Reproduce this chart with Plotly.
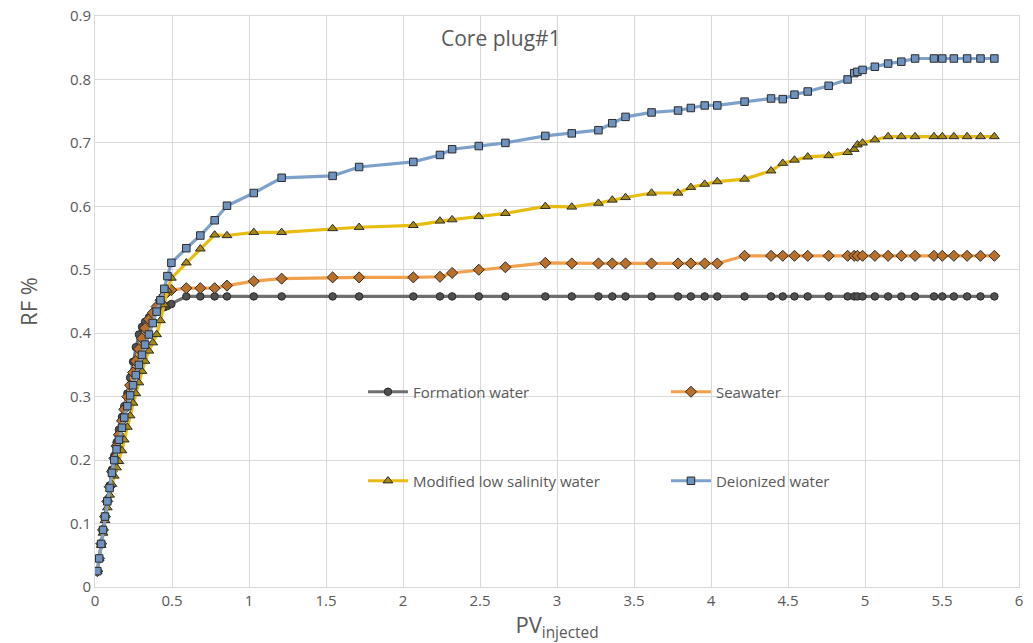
import plotly.graph_objects as go

# Shared PV injected values
pv = [0.015, 0.027, 0.040, 0.052, 0.065, 0.080, 0.095, 0.110, 0.125, 0.140,
      0.155, 0.175, 0.190, 0.210, 0.228, 0.247, 0.265, 0.285, 0.305, 0.325,
      0.350, 0.375, 0.400, 0.425, 0.450, 0.470,
      0.496, 0.593, 0.684, 0.777, 0.857, 1.031, 1.212, 1.543, 1.715, 2.067,
      2.240, 2.319, 2.492, 2.665, 2.924, 3.096, 3.269, 3.359, 3.445, 3.614,
      3.786, 3.869, 3.959, 4.041, 4.218, 4.390, 4.466, 4.542, 4.628, 4.764,
      4.887, 4.930, 4.951, 4.984, 5.064, 5.150, 5.236, 5.325, 5.448, 5.502,
      5.577, 5.663, 5.750, 5.840]

formation_water = [0.025, 0.045, 0.068, 0.090, 0.112, 0.137, 0.160, 0.185, 0.207, 0.228,
                   0.248, 0.268, 0.285, 0.305, 0.330, 0.355, 0.378, 0.398, 0.410, 0.418,
                   0.425, 0.430, 0.435, 0.438, 0.441, 0.443,
                   0.446, 0.458, 0.458, 0.458, 0.458, 0.458, 0.458, 0.458, 0.458, 0.458,
                   0.458, 0.458, 0.458, 0.458, 0.458, 0.458, 0.458, 0.458, 0.458, 0.458,
                   0.458, 0.458, 0.458, 0.458, 0.458, 0.458, 0.458, 0.458, 0.458, 0.458,
                   0.458, 0.458, 0.458, 0.458, 0.458, 0.458, 0.458, 0.458, 0.458, 0.458,
                   0.458, 0.458, 0.458, 0.458]

seawater = [0.025, 0.045, 0.068, 0.090, 0.111, 0.135, 0.158, 0.182, 0.203, 0.222,
            0.240, 0.262, 0.280, 0.300, 0.318, 0.338, 0.356, 0.375, 0.392, 0.408,
            0.422, 0.432, 0.442, 0.452, 0.460, 0.465,
            0.468, 0.471, 0.471, 0.471, 0.475, 0.482, 0.486, 0.488, 0.488, 0.488,
            0.489, 0.495, 0.500, 0.504, 0.511, 0.510, 0.510, 0.510, 0.510, 0.510,
            0.510, 0.510, 0.510, 0.510, 0.522, 0.522, 0.522, 0.522, 0.522, 0.522,
            0.522, 0.522, 0.522, 0.522, 0.522, 0.522, 0.522, 0.522, 0.522, 0.522,
            0.522, 0.522, 0.522, 0.522]

modified_low_salinity = [0.025, 0.045, 0.066, 0.085, 0.105, 0.125, 0.145, 0.162, 0.175, 0.188,
                         0.198, 0.215, 0.232, 0.252, 0.270, 0.290, 0.305, 0.322, 0.340, 0.356,
                         0.372, 0.385, 0.398, 0.420, 0.445, 0.468,
                         0.487, 0.511, 0.533, 0.555, 0.554, 0.559, 0.559, 0.565, 0.567, 0.570,
                         0.577, 0.579, 0.584, 0.589, 0.600, 0.599, 0.605, 0.610, 0.614, 0.621,
                         0.621, 0.630, 0.635, 0.639, 0.643, 0.656, 0.668, 0.673, 0.678, 0.680,
                         0.685, 0.690, 0.697, 0.700, 0.705, 0.710, 0.710, 0.710, 0.710, 0.710,
                         0.710, 0.710, 0.710, 0.710]

deionized_water = [0.025, 0.045, 0.068, 0.090, 0.111, 0.135, 0.156, 0.180, 0.200, 0.217,
                   0.232, 0.251, 0.267, 0.285, 0.302, 0.318, 0.334, 0.350, 0.366, 0.382,
                   0.398, 0.416, 0.434, 0.452, 0.470, 0.490,
                   0.511, 0.534, 0.554, 0.578, 0.601, 0.621, 0.645, 0.648, 0.662, 0.670,
                   0.681, 0.690, 0.695, 0.700, 0.711, 0.715, 0.720, 0.731, 0.741, 0.748,
                   0.751, 0.755, 0.759, 0.759, 0.765, 0.770, 0.769, 0.776, 0.781, 0.790,
                   0.800, 0.810, 0.812, 0.815, 0.820, 0.825, 0.828, 0.833, 0.833, 0.833,
                   0.833, 0.833, 0.833, 0.833]

series_names = ["Formation water", "Seawater", "Modified low salinity water", "Deionized water"]
x_ticks = [0, 0.5, 1, 1.5, 2, 2.5, 3, 3.5, 4, 4.5, 5, 5.5, 6]
x_tick_labels = ["0", "0.5", "1", "1.5", "2", "2.5", "3", "3.5", "4", "4.5", "5", "5.5", "6"]
y_ticks = [0, 0.1, 0.2, 0.3, 0.4, 0.5, 0.6, 0.7, 0.8, 0.9]
y_tick_labels = ["0", "0.1", "0.2", "0.3", "0.4", "0.5", "0.6", "0.7", "0.8", "0.9"]

FONT = "Open Sans"
TXT = "#595959"
GRID = "#d9d9d9"

styles = [
    dict(line="#6f6f6f", marker="#505050", symbol="circle", size=7.5, legend="legend"),
    dict(line="#f2a04c", marker="#b8702a", symbol="diamond", size=8.5, legend="legend"),
    dict(line="#e8bd10", marker="#a88a10", symbol="triangle-up", size=8.5, legend="legend2"),
    dict(line="#7ea1cc", marker="#6f93c0", symbol="square", size=7.5, legend="legend2"),
]
ys = [formation_water, seawater, modified_low_salinity, deionized_water]

fig = go.Figure()
for name, y, st in zip(series_names, ys, styles):
    fig.add_trace(go.Scatter(
        x=pv, y=y, name=name, mode="lines+markers",
        line=dict(color=st["line"], width=3.2),
        marker=dict(symbol=st["symbol"], size=st["size"], color=st["marker"],
                    line=dict(color="#2b2b2b", width=1)),
        legend=st["legend"],
    ))

leg_common = dict(orientation="h", xanchor="left", yanchor="middle",
                  bgcolor="rgba(0,0,0,0)", font=dict(family=FONT, size=15, color=TXT),
                  entrywidth=248, entrywidthmode="pixels", itemwidth=40,
                  traceorder="normal")

fig.update_layout(
    width=1033, height=643,
    margin=dict(l=95, r=14, t=16, b=56, autoexpand=False),
    paper_bgcolor="white", plot_bgcolor="white",
    font=dict(family=FONT, color=TXT),
    showlegend=True,
    legend=dict(x=0.29, y=0.3415, **leg_common),
    legend2=dict(x=0.29, y=0.1856, **leg_common),
    xaxis=dict(range=[0, 6], tickmode="array", tickvals=x_ticks, ticktext=x_tick_labels,
               automargin=False,
               showgrid=True, gridcolor=GRID, gridwidth=1, zeroline=False,
               showline=True, linecolor=GRID, linewidth=1, mirror=True,
               ticks="", tickfont=dict(family=FONT, size=15, color=TXT),
               title=dict(text="PV<sub>injected</sub>", font=dict(family=FONT, size=22, color=TXT),
                          standoff=6)),
    yaxis=dict(range=[0, 0.9], tickmode="array", tickvals=y_ticks, ticktext=y_tick_labels,
               automargin=False,
               showgrid=True, gridcolor=GRID, gridwidth=1, zeroline=False,
               showline=True, linecolor=GRID, linewidth=1, mirror=True,
               ticks="", tickfont=dict(family=FONT, size=15, color=TXT),
               title=dict(text="RF %", font=dict(family=FONT, size=22, color=TXT),
                          standoff=26)),
    annotations=[dict(text="Core plug#1", xref="paper", yref="paper", x=0.439, y=0.962,
                      xanchor="center", yanchor="middle", showarrow=False,
                      font=dict(family=FONT, size=21, color=TXT))],
)

fig.write_html("out.html")
